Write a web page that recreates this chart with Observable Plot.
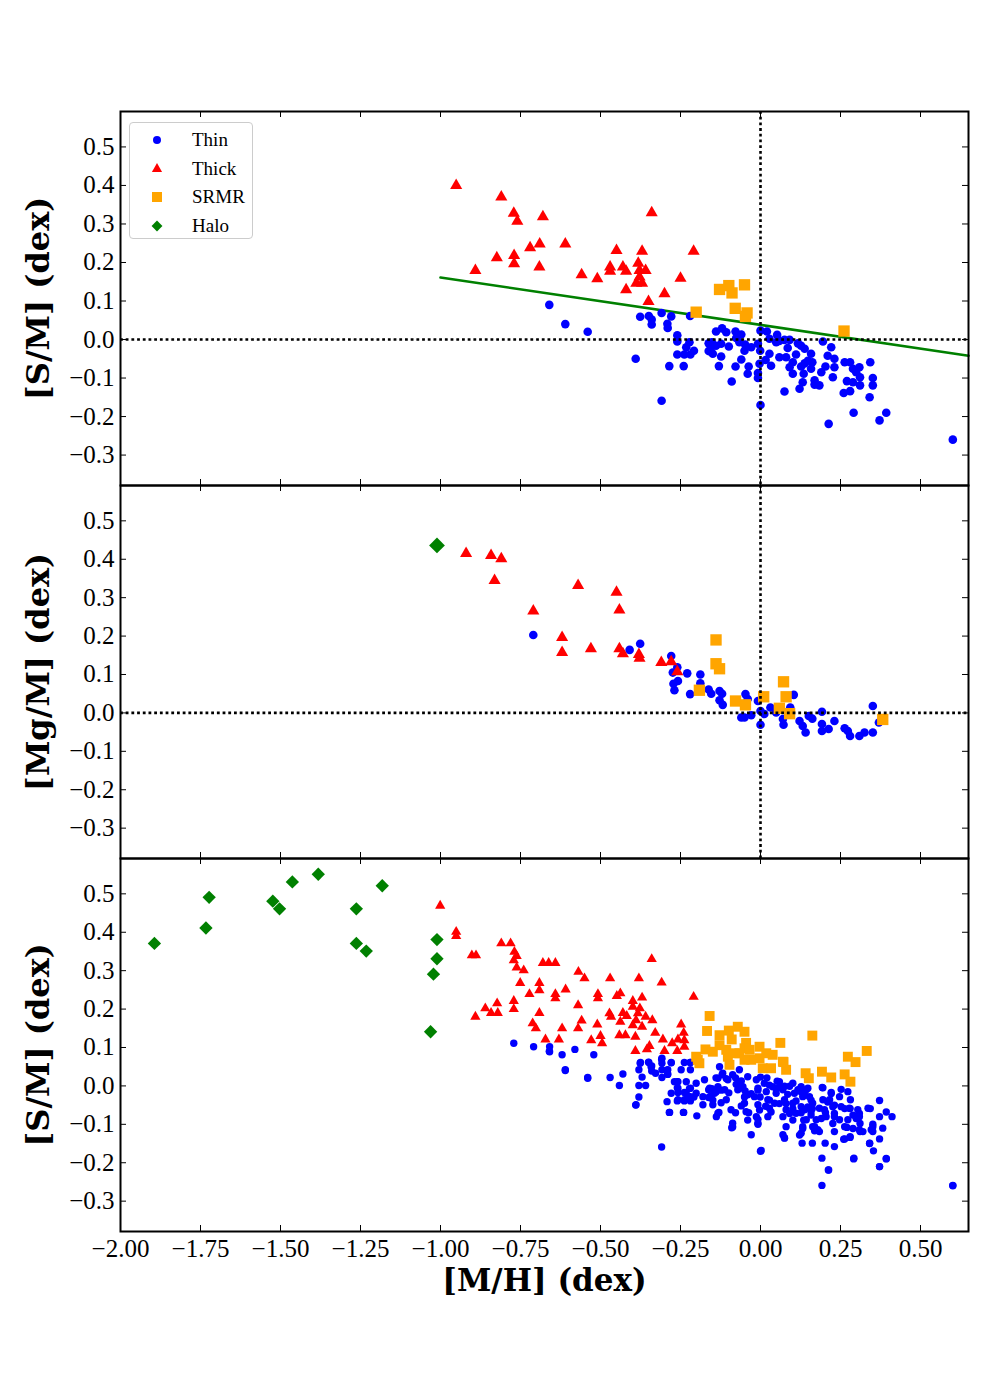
<!DOCTYPE html>
<html><head><meta charset="utf-8">
<script src="https://cdn.jsdelivr.net/npm/d3@7"></script>
<script src="https://cdn.jsdelivr.net/npm/@observablehq/plot@0.6"></script>
<style>
body{margin:0;background:#fff;}
#wrap{position:relative;width:1000px;height:1400px;background:#fff;}
.panel{position:absolute;left:0;}
.panel svg{background:transparent !important;overflow:visible;}
.panel svg g[aria-label="y-axis tick label"] text,
.panel svg g[aria-label="x-axis tick label"] text{font-family:"Liberation Serif",serif;}
#legend{position:absolute;left:129px;top:122px;width:124px;height:117px;border:1px solid #cccccc;border-radius:4px;background:#fff;font-family:"Liberation Serif",serif;font-size:19px;color:#000;box-sizing:border-box;padding-top:3px;}
#legend .row{position:relative;height:28.5px;}
#legend .row svg{position:absolute;left:15px;top:2px;}
#legend .row span{position:absolute;left:62px;top:3px;line-height:22px;}
</style></head>
<body>
<div id="wrap"><div id="legend"></div></div>
<script>
// ---------- tick labels ----------
const yTicks = [-0.3,-0.2,-0.1,0,0.1,0.2,0.3,0.4,0.5];
const xTicks = [-2,-1.75,-1.5,-1.25,-1,-0.75,-0.5,-0.25,0,0.25,0.5];
const legendLabels = ["Thin","Thick","SRMR","Halo"];
const yLabels = ["[S/M] (dex)","[Mg/M] (dex)","[S/M] (dex)"];
const xLabel = "[M/H] (dex)";

// ---------- panel 1: [S/M] vs [M/H] ----------
const p1Thin = [[-0.660,0.090],[-0.610,0.040],[-0.540,0.020],[-0.390,-0.050],[-0.309,-0.159],[-0.376,0.059],[-0.349,0.061],[-0.340,0.052],[-0.340,0.039],[-0.309,0.069],[-0.279,0.060],[-0.291,0.041],[-0.290,0.030],[-0.260,0.011],[-0.260,-0.005],[-0.222,-0.007],[-0.232,-0.020],[-0.208,-0.029],[-0.260,-0.039],[-0.238,-0.039],[-0.219,-0.039],[-0.285,-0.069],[-0.240,-0.069],[-0.220,0.061],[-0.162,-0.010],[-0.162,-0.030],
[-0.139,0.021],[-0.120,0.029],[-0.107,0.019],[-0.078,0.021],[-0.060,0.013],[-0.076,0.004],[-0.152,-0.007],[-0.156,-0.027],[-0.139,-0.016],[-0.123,-0.011],[-0.149,-0.037],[-0.123,-0.044],[-0.130,-0.069],[-0.099,-0.018],[-0.066,-0.007],[-0.048,-0.013],[-0.050,-0.029],[-0.029,-0.020],[-0.008,-0.011],[-0.060,-0.052],[-0.078,-0.070],[-0.037,-0.070],[-0.040,-0.089],[-0.090,-0.109],[-0.008,-0.087],[-0.008,-0.100],[-0.003,-0.063],[0.000,-0.170],[0.000,0.023],[0.020,0.021],[0.028,0.002],[-0.001,-0.029],[0.028,-0.037],[0.016,-0.053],[0.033,-0.068],[0.052,0.012],[0.049,-0.007],[0.059,-0.004],[0.059,-0.046],[0.075,-0.001],[0.080,-0.046],[0.091,-0.001],[0.085,-0.022],[0.075,-0.135],[0.101,-0.059],[0.091,-0.072],[0.101,-0.089],[0.117,-0.010],[0.127,-0.016],[0.138,-0.024],[0.111,-0.039],[0.138,-0.062],[0.127,-0.070],[0.122,-0.128],[0.135,-0.089],[0.132,-0.111],[0.148,-0.055],[0.158,-0.037],[0.162,-0.059],[0.158,-0.076],[0.169,-0.117],[0.184,-0.119],[0.169,-0.106],[0.190,-0.085],[0.203,-0.070],[0.195,-0.005],[0.221,-0.020],[0.210,-0.042],[0.231,-0.050],[0.231,-0.072],[0.226,-0.098],[0.213,-0.219],[0.263,-0.059],[0.280,-0.059],[0.289,-0.076],[0.309,-0.072],[0.299,-0.085],[0.270,-0.108],[0.289,-0.111],[0.311,-0.098],[0.311,-0.119],[0.260,-0.139],[0.280,-0.134],[0.291,-0.190],[0.343,-0.059],[0.351,-0.100],[0.351,-0.119],[0.341,-0.150],[0.393,-0.190],[0.372,-0.210],[0.601,-0.260]];
const p1Thick = [[-0.951,0.400],[-0.810,0.370],[-0.771,0.328],[-0.760,0.307],[-0.680,0.319],[-0.891,0.179],[-0.824,0.212],[-0.770,0.218],[-0.770,0.197],[-0.720,0.238],[-0.690,0.248],[-0.691,0.188],[-0.610,0.248],[-0.559,0.168],[-0.510,0.158],[-0.450,0.231],[-0.470,0.188],[-0.470,0.177],[-0.430,0.188],[-0.420,0.177],[-0.420,0.129],[-0.370,0.229],[-0.382,0.198],[-0.378,0.179],[-0.359,0.179],[-0.378,0.162],[-0.388,0.146],[-0.370,0.146],[-0.340,0.329],[-0.350,0.099],[-0.300,0.119],[-0.250,0.159],[-0.209,0.229]];
const p1Srmr = [[-0.201,0.071],[-0.128,0.130],[-0.099,0.140],[-0.089,0.121],[-0.050,0.142],[-0.079,0.081],[-0.042,0.069],[-0.047,0.060],[0.261,0.022]];
const p1Fit = [[-1.0,0.161],[0.65,-0.042]];

// ---------- panel 2: [Mg/M] vs [M/H] ----------
const p2Thin = [[-0.710,0.203],[-0.409,0.164],[-0.376,0.180],[-0.279,0.148],[-0.260,0.119],[-0.274,0.105],[-0.229,0.103],[-0.188,0.100],[-0.258,0.083],[-0.272,0.076],[-0.269,0.059],[-0.188,0.077],[-0.220,0.049],
[-0.162,0.061],[-0.154,0.050],[-0.128,0.057],[-0.120,0.050],[-0.128,0.033],[-0.118,0.021],[-0.060,-0.012],[-0.050,-0.012],[-0.047,0.049],[-0.040,0.036],[-0.029,-0.006],[-0.008,0.031],[0.000,0.005],[0.012,-0.003],[0.000,-0.031],[0.031,0.014],[0.049,0.001],[0.072,-0.031],[0.070,-0.016],[0.093,0.014],[0.104,0.047],[0.122,-0.021],[0.132,-0.034],[0.141,-0.051],[0.151,-0.008],[0.162,-0.015],[0.192,0.003],[0.192,-0.029],[0.192,-0.047],[0.213,-0.042],[0.231,-0.021],[0.263,-0.040],[0.273,-0.047],[0.280,-0.060],[0.309,-0.060],[0.325,-0.051],[0.351,-0.051],[0.351,0.018],[0.370,-0.025]];
const p2Thick = [[-0.920,0.415],[-0.842,0.410],[-0.810,0.401],[-0.831,0.345],[-0.570,0.332],[-0.450,0.314],[-0.441,0.268],[-0.710,0.265],[-0.620,0.196],[-0.620,0.157],[-0.530,0.167],[-0.441,0.167],[-0.430,0.154],[-0.380,0.152],[-0.378,0.142],[-0.310,0.131],[-0.279,0.133],[-0.260,0.107]];
const p2Srmr = [[-0.139,0.190],[-0.139,0.128],[-0.128,0.115],[-0.191,0.059],[-0.078,0.031],[-0.047,0.021],[0.010,0.042],[0.072,0.081],[0.080,0.042],[0.059,0.012],[0.091,-0.002],[0.382,-0.017]];
const p2Halo = [[-1.011,0.436]];

// ---------- panel 3: [S/M] vs [M/H], all samples ----------
const p3ThinExtra = [[-0.771,0.111],[-0.709,0.102],[-0.659,0.102],[-0.659,0.089],[-0.620,0.081],[-0.580,0.095],[-0.521,0.081],[-0.610,0.042],[-0.540,0.022],[-0.470,0.022],[-0.430,0.031],[-0.441,0.001],[-0.380,0.001],[-0.359,0.001],[-0.380,-0.029],[-0.389,-0.049],[-0.375,0.061],[-0.380,0.042],[-0.370,0.023],[-0.350,0.062],[-0.342,0.050],[-0.328,0.033],[-0.308,0.072],[-0.308,0.059],[-0.308,0.042],[-0.308,0.022],[-0.290,0.042],[-0.279,0.061],[-0.290,0.031],[-0.269,0.011],[-0.258,0.011],[-0.232,0.011],[-0.248,0.042],[-0.238,0.061],[-0.219,0.061],[-0.219,0.042],[-0.258,-0.006],[-0.258,-0.017],[-0.238,-0.017],[-0.279,-0.019],[-0.258,-0.036],[-0.238,-0.036],[-0.219,-0.006],[-0.219,-0.028],[-0.201,-0.019],[-0.292,-0.041],[-0.284,-0.069],[-0.241,-0.069],[-0.201,0.007],
[-0.199,-0.078],[-0.175,0.016],[-0.159,-0.006],[-0.180,-0.028],[-0.180,-0.049],[-0.144,-0.019],[-0.133,-0.002],[-0.128,0.050],[-0.133,0.020],[-0.118,0.033],[-0.102,0.016],[-0.087,0.029],[-0.112,-0.010],[-0.107,-0.036],[-0.149,-0.049],[-0.133,-0.071],[-0.138,-0.080],[-0.092,-0.062],[-0.087,-0.097],[-0.087,-0.107],[-0.066,0.011],[-0.071,-0.010],[-0.055,-0.002],[-0.040,0.024],[-0.040,-0.023],[-0.050,-0.045],[-0.045,-0.067],[-0.029,-0.127],[-0.013,0.016],[-0.008,-0.006],[-0.019,-0.028],[-0.008,-0.049],[-0.013,-0.080],[-0.008,-0.097],[0.002,-0.168],[0.012,0.007],[0.018,-0.015],[0.023,-0.036],[0.028,-0.058],[0.023,-0.080],[0.038,-0.002],[0.049,-0.019],[0.044,-0.045],[0.059,0.011],[0.070,-0.010],[0.075,-0.036],[0.080,-0.062],[0.070,-0.080],[0.080,-0.106],[0.070,-0.127],[0.075,-0.136],[0.101,0.007],[0.106,-0.019],[0.101,-0.045],[0.111,-0.071],[0.127,-0.002],[0.132,-0.028],[0.127,-0.054],[0.132,-0.106],[0.127,-0.123],[0.130,-0.149],[0.143,-0.010],[0.143,-0.088],[-0.066,0.042],
[0.148,-0.006],[0.153,-0.028],[0.163,-0.045],[0.158,-0.067],[0.174,-0.088],[0.163,-0.106],[0.179,-0.114],[0.162,-0.149],[0.192,-0.188],[0.212,-0.219],[0.192,-0.259],[0.193,-0.004],[0.195,-0.036],[0.200,-0.062],[0.205,-0.080],[0.202,-0.149],[0.221,-0.017],[0.226,-0.054],[0.231,-0.080],[0.231,-0.119],[0.231,-0.158],[0.247,-0.028],[0.252,-0.009],[0.252,-0.054],[0.247,-0.088],[0.263,-0.106],[0.263,-0.138],[0.273,-0.015],[0.281,-0.036],[0.278,-0.058],[0.273,-0.088],[0.280,-0.132],[0.292,-0.188],[0.304,-0.062],[0.309,-0.080],[0.309,-0.114],[0.320,-0.119],[0.336,-0.058],[0.346,-0.114],[0.341,-0.149],[0.353,-0.169],[0.372,-0.038],[0.372,-0.080],[0.382,-0.110],[0.372,-0.138],[0.393,-0.068],[0.411,-0.080],[0.393,-0.189],[0.372,-0.210],[0.351,-0.106],[0.216,-0.036],[0.184,-0.058],[0.601,-0.259]];
const p3Thick = [[-1.001,0.469],[-0.951,0.401],[-0.951,0.390],[-0.902,0.340],[-0.889,0.340],[-0.810,0.371],[-0.781,0.371],[-0.769,0.349],[-0.762,0.338],[-0.771,0.327],[-0.762,0.308],[-0.740,0.301],[-0.751,0.268],[-0.680,0.320],[-0.662,0.320],[-0.641,0.320],[-0.691,0.268],[-0.691,0.249],[-0.722,0.239],[-0.641,0.239],[-0.641,0.228],[-0.609,0.251],[-0.569,0.297],[-0.550,0.280],[-0.470,0.280],[-0.380,0.280],[-0.340,0.330],[-0.309,0.269],[-0.508,0.239],[-0.508,0.228],[-0.449,0.234],[-0.438,0.241],[-0.399,0.221],[-0.370,0.230],[-0.570,0.210],[-0.860,0.202],[-0.842,0.190],[-0.821,0.190],[-0.823,0.215],[-0.891,0.180],[-0.771,0.221],[-0.771,0.200],[-0.691,0.190],[-0.712,0.163],[-0.702,0.150],[-0.672,0.121],[-0.630,0.121],[-0.620,0.150],[-0.570,0.150],[-0.559,0.170],[-0.529,0.119],[-0.510,0.160],[-0.500,0.130],[-0.495,0.111],[-0.472,0.189],[-0.467,0.180],[-0.438,0.167],[-0.430,0.190],[-0.418,0.182],[-0.399,0.206],[-0.383,0.189],[-0.377,0.202],[-0.399,0.158],[-0.389,0.171],[-0.370,0.154],[-0.359,0.180],[-0.338,0.171],[-0.329,0.138],[-0.441,0.132],[-0.422,0.132],[-0.391,0.128],[-0.391,0.091],[-0.355,0.095],[-0.347,0.104],[-0.305,0.121],[-0.300,0.091],[-0.276,0.111],[-0.258,0.121],[-0.260,0.091],[-0.248,0.160],[-0.240,0.138],[-0.238,0.119],[-0.238,0.102],[-0.209,0.232]];
const p3Srmr = [[-0.159,0.182],[-0.167,0.143],[-0.128,0.132],[-0.099,0.144],[-0.071,0.154],[-0.050,0.141],[-0.090,0.121],[-0.045,0.112],[-0.128,0.106],[-0.172,0.095],[-0.149,0.089],[-0.107,0.094],[-0.102,0.076],[-0.081,0.085],[-0.066,0.085],[-0.050,0.098],[-0.034,0.094],[-0.003,0.102],[0.018,0.085],[0.038,0.081],[0.062,0.112],[-0.003,0.072],[-0.029,0.068],[-0.050,0.068],[-0.097,0.055],[-0.196,0.068],[-0.201,0.076],[-0.191,0.059],[0.007,0.046],[0.033,0.046],[0.070,0.063],[0.080,0.042],[0.141,0.033],[0.162,0.131],[0.072,0.062],[0.151,0.020],[0.192,0.037],[0.221,0.022],[0.263,0.030],[0.281,0.011],[0.273,0.076],[0.297,0.062],[0.332,0.091]];
const p3Halo = [[-1.894,0.371],[-1.733,0.411],[-1.723,0.491],[-1.524,0.481],[-1.503,0.461],[-1.463,0.531],[-1.382,0.551],[-1.263,0.461],[-1.182,0.521],[-1.263,0.371],[-1.232,0.351],[-1.011,0.381],[-1.011,0.331],[-1.022,0.291],[-1.031,0.141]];

// ---------- styling ----------
const COLORS = {thin:"#0000ff", thick:"#ff0000", srmr:"#ffa500", halo:"#008000"};
const W = 1000, ML = 120, MR = 32;
const xDomain = [-2.0, 0.65];
const yDomain = [-0.379, 0.592];
const TL = 6;
const big = {thin:4.3, thick:4.5, srmr:6.4, halo:7.1};
const small = {thin:3.7, thick:3.8, srmr:5.6, halo:6.0};

function makePanel(cfg){
  const fh = cfg.frameHeight, mb = cfg.marginBottom, fw = W - ML - MR;
  const s = cfg.sizes;
  const X = d=>d[0], Y = d=>d[1];
  const marks = [];
  if (cfg.fit) marks.push(Plot.line(cfg.fit, {x:X, y:Y, stroke:COLORS.halo, strokeWidth:2.6}));
  if (cfg.thin) marks.push(Plot.dot(cfg.thin, {x:X, y:Y, r:s.thin, fill:COLORS.thin}));
  if (cfg.thick) marks.push(Plot.dot(cfg.thick, {x:X, y:Y, r:s.thick, symbol:"triangle", fill:COLORS.thick}));
  if (cfg.srmr) marks.push(Plot.dot(cfg.srmr, {x:X, y:Y, r:s.srmr, symbol:"square", fill:COLORS.srmr}));
  if (cfg.halo) marks.push(Plot.dot(cfg.halo, {x:X, y:Y, r:s.halo, symbol:d3.symbolDiamond2 || "diamond", fill:COLORS.halo}));
  if (cfg.zeroLines){
    marks.push(Plot.ruleY([0], {stroke:"black", strokeWidth:2.6, strokeDasharray:"2.8,2.9"}));
    marks.push(Plot.ruleX([0], {stroke:"black", strokeWidth:2.6, strokeDasharray:"2.8,2.9"}));
  }
  // inward ticks on all four sides
  marks.push(Plot.tickY(yTicks, {y:d=>d, insetRight:fw-TL, stroke:"black", strokeWidth:1}));
  marks.push(Plot.tickY(yTicks, {y:d=>d, insetLeft:fw-TL, stroke:"black", strokeWidth:1}));
  marks.push(Plot.tickX(xTicks, {x:d=>d, insetTop:fh-TL, stroke:"black", strokeWidth:1}));
  marks.push(Plot.tickX(xTicks, {x:d=>d, insetBottom:fh-TL, stroke:"black", strokeWidth:1}));
  marks.push(Plot.frame({stroke:"black", strokeWidth:2}));
  marks.push(Plot.axisY({ticks:yTicks, tickSize:0, tickPadding:6, tickFormat:d3.format(".1f"), label:null, fontSize:25, fontFamily:"Liberation Serif"}));
  marks.push(Plot.text([cfg.yLabel], {text:d=>d, frameAnchor:"left", dx:-82, rotate:-90, textAnchor:"middle", lineAnchor:"middle", fontWeight:"bold", fontSize:32, fontFamily:"DejaVu Serif", fill:"black"}));
  if (cfg.xAxis){
    marks.push(Plot.axisX({ticks:xTicks, tickSize:0, tickPadding:8, tickFormat:d3.format(".2f"), label:null, fontSize:25, fontFamily:"Liberation Serif"}));
    marks.push(Plot.text([xLabel], {text:d=>d, frameAnchor:"bottom", dy:50, textAnchor:"middle", lineAnchor:"middle", fontWeight:"bold", fontSize:31, fontFamily:"DejaVu Serif", fill:"black"}));
  }
  const el = Plot.plot({
    width:W, height:fh+2+mb, marginTop:2, marginBottom:mb, marginLeft:ML, marginRight:MR,
    x:{domain:xDomain, axis:null}, y:{domain:yDomain, axis:null},
    style:{fontFamily:"Liberation Serif", fontSize:"25px", background:"transparent", overflow:"visible", color:"black"},
    marks
  });
  const div = document.createElement("div");
  div.className = "panel";
  div.style.top = (cfg.frameTop - 2) + "px";
  div.appendChild(el);
  return div;
}

const wrap = document.getElementById("wrap");
const legend = document.getElementById("legend");
wrap.insertBefore(makePanel({frameTop:111, frameHeight:374, marginBottom:2, sizes:big, thin:p1Thin, thick:p1Thick, srmr:p1Srmr, fit:p1Fit, zeroLines:true, yLabel:yLabels[0]}), legend);
wrap.insertBefore(makePanel({frameTop:485, frameHeight:373, marginBottom:2, sizes:big, thin:p2Thin, thick:p2Thick, srmr:p2Srmr, halo:p2Halo, zeroLines:true, yLabel:yLabels[1]}), legend);
wrap.insertBefore(makePanel({frameTop:858, frameHeight:373, marginBottom:90, sizes:small, thin:p1Thin.concat(p3ThinExtra), thick:p3Thick, srmr:p3Srmr, halo:p3Halo, zeroLines:false, xAxis:true, yLabel:yLabels[2]}), legend);

// legend
const legSyms = [d3.symbolCircle, d3.symbolTriangle, d3.symbolSquare, d3.symbolDiamond2 || d3.symbolDiamond];
const legSizes = [50, 45, 100, 75];
const legCols = [COLORS.thin, COLORS.thick, COLORS.srmr, COLORS.halo];
legendLabels.forEach((lab, i) => {
  const row = document.createElement("div");
  row.className = "row";
  const svg = d3.create("svg").attr("width", 24).attr("height", 24);
  svg.append("path").attr("transform", "translate(12,12)").attr("d", d3.symbol(legSyms[i], legSizes[i])()).attr("fill", legCols[i]);
  row.appendChild(svg.node());
  const sp = document.createElement("span");
  sp.textContent = lab;
  row.appendChild(sp);
  legend.appendChild(row);
});
</script>
</body></html>
